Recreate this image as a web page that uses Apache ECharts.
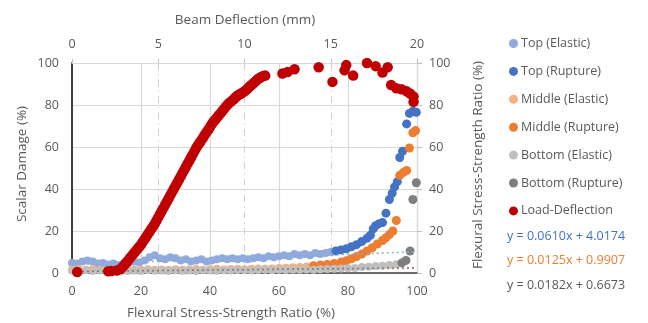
<!DOCTYPE html>
<html>
<head>
<meta charset="utf-8">
<script src="https://cdn.jsdelivr.net/npm/echarts@6/dist/echarts.min.js"></script>
<style>
  html, body { margin: 0; padding: 0; background: #fff; }
  #chart { width: 648px; height: 323px; }
</style>
</head>
<body>
<div id="chart"></div>
<script>
// 数据
const topElasticX = [0, 1.5, 3, 4.5, 6, 7.5, 9, 10.5, 12, 13.5, 15, 16.5, 18, 19.5, 21, 22.5, 24, 25.5, 27, 28.5, 30, 31.5, 33, 34.5, 36, 37.5, 39, 40.5, 42, 43.5, 45, 46.5, 48, 49.5, 51, 52.5, 54, 55.5, 57, 58.5, 60, 61.5, 63, 64.5, 66, 67.5, 69, 70.5, 72, 73.5, 75];
const topElasticY = [4.8, 4.5, 5.5, 6, 5.5, 4.5, 4.8, 4, 4.5, 3.8, 4.5, 5, 5.5, 5, 6, 7.5, 8.5, 7, 6.5, 7.5, 7, 6, 6.5, 5.5, 6, 6.5, 5.5, 6, 6.5, 7, 6.5, 7, 6.5, 7, 6.5, 7, 7.5, 7, 8, 7.5, 8, 8.5, 8, 9, 8.5, 9, 8.5, 9.5, 9, 9.5, 10];

const topRuptureX = [76.5, 78, 79.5, 81, 82.5, 84, 85.5, 86.5, 87.3, 88, 89, 90, 91, 92, 92.8, 93.5, 94.3, 95, 95.8, 97, 97.8, 98.8, 99.8];
const topRuptureY = [10.5, 11, 11.5, 12.5, 13.5, 15, 16.5, 18, 21, 22.5, 23.5, 24, 28.5, 35, 38, 41, 43.5, 55, 58, 71, 76, 77, 76.5];

const middleElasticX = [0, 2, 4, 6, 8, 10, 12, 14, 16, 18, 20, 22, 24, 26, 28, 30, 32, 34, 36, 38, 40, 42, 44, 46, 48, 50, 52, 54, 56, 58, 60, 62, 64, 66, 68, 70];
const middleElasticY = [1.6, 1.8, 1.5, 1.9, 1.6, 1.4, 1.7, 1.5, 1.8, 1.6, 1.5, 1.8, 1.6, 1.7, 1.5, 1.8, 1.6, 1.7, 1.9, 1.6, 1.8, 2.0, 1.7, 1.9, 2.0, 1.8, 2.0, 2.1, 2.0, 2.2, 2.4, 2.5, 2.7, 2.9, 3.1, 3.3];

const middleRuptureX = [70, 72, 74, 76, 78, 79.5, 81, 82.5, 84, 85.5, 87, 88.5, 90, 91, 92, 93, 94, 95, 96, 97, 97.8, 98.8, 99.6];
const middleRuptureY = [3.5, 3.8, 4.1, 4.5, 5.2, 5.8, 6.8, 7.8, 9, 10.5, 12, 13.8, 15.5, 16.8, 18.3, 20, 25, 46.5, 47.8, 48.8, 59.5, 66.8, 67.8];

const bottomElasticX = [0, 2, 4, 6, 8, 10, 12, 14, 16, 18, 20, 22, 24, 26, 28, 30, 32, 34, 36, 38, 40, 42, 44, 46, 48, 50, 52, 54, 56, 58, 60, 62, 64, 66, 68, 70, 72, 74, 76, 78, 80, 82, 84, 86, 88, 90, 92, 94];
const bottomElasticY = [1.2, 1.0, 1.3, 1.0, 1.2, 0.9, 1.1, 1.3, 1.0, 1.2, 1.0, 1.3, 1.1, 1.2, 1.0, 1.3, 1.1, 1.2, 1.0, 1.3, 1.2, 1.1, 1.3, 1.2, 1.4, 1.3, 1.2, 1.4, 1.5, 1.3, 1.5, 1.4, 1.6, 1.5, 1.7, 1.6, 1.8, 1.9, 2.0, 2.1, 2.3, 2.4, 2.8, 3.0, 3.3, 3.4, 3.8, 4.2];

const bottomRuptureX = [95.6, 96.8, 98, 98.8, 99.8];
const bottomRuptureY = [4.8, 6, 10.5, 35, 43];

// 荷载-挠度（上轴 mm，右轴 %）
const deflection = [0.3, 2.1, 2.3, 2.6, 2.8, 2.9, 3.0, 3.1, 3.2, 3.3, 3.4, 3.5, 3.6, 3.7, 3.8, 3.9, 4.0, 4.1, 4.2, 4.3, 4.4, 4.5, 4.6, 4.7, 4.8, 4.9,
  5.0, 5.1, 5.2, 5.3, 5.4, 5.5, 5.6, 5.7, 5.8, 5.9, 6.0, 6.1, 6.2, 6.3, 6.4, 6.5, 6.6, 6.7, 6.8, 6.9,
  7.0, 7.1, 7.2, 7.3, 7.4, 7.5, 7.6, 7.7, 7.8, 7.9, 8.0, 8.1, 8.2, 8.3, 8.4, 8.5, 8.6, 8.7, 8.8, 8.9,
  9.0, 9.1, 9.2, 9.3, 9.4, 9.5, 9.6, 9.7, 9.8, 9.9, 10.0, 10.1, 10.2, 10.3, 10.4, 10.5, 10.6, 10.7, 10.8, 10.9, 11.0, 11.1, 11.2,
  12.2, 12.5, 12.9, 14.3, 15.1, 15.8, 15.9, 16.3, 17.1, 17.6, 18.0, 18.3, 18.5, 18.8, 19.1, 19.4, 19.6, 19.8, 19.8];
const loadRatio = [0.5, 0.8, 1.0, 1.2, 1.8, 2.6, 3.5, 4.5, 5.5, 6.5, 7.5, 8.5, 9.5, 10.5, 11.5, 12.5, 13.5, 14.8, 16, 17.2, 18.5, 19.8, 21, 22.2, 23.5, 25,
  26.5, 28, 29.5, 31, 32.5, 34, 35.5, 37, 38.5, 40, 41.5, 43, 44.5, 46, 47.5, 49, 50.5, 52, 53.5, 55,
  56.5, 58, 59.5, 60.8, 62, 63.2, 64.5, 65.8, 67, 68.2, 69.5, 70.8, 72, 73, 74, 75, 76, 77, 78, 79,
  80, 80.8, 81.5, 82.2, 83, 83.8, 84.5, 85, 85.5, 86, 86.5, 87.2, 88, 88.8, 89.5, 90.2, 91, 91.8, 92.5, 93, 93.5, 93.8, 94,
  95, 95.7, 97, 98, 91, 96.5, 99, 94, 100, 98.5, 95.5, 98, 89.5, 88, 87.5, 86.5, 85.5, 84, 81.5];

// 趋势线方程
const trendSlope = [0.0610, 0.0125, 0.0182];
const trendIntercept = [4.0174, 0.9907, 0.6673];
const trendLabels = ['y = 0.0610x + 4.0174', 'y = 0.0125x + 0.9907', 'y = 0.0182x + 0.6673'];

const bottomTicks = [0, 20, 40, 60, 80, 100];

const colors = {
    topE: '#8FAADC', topR: '#4472C4',
    midE: '#F4B183', midR: '#ED7D31',
    botE: '#BFBFBF', botR: '#7F7F7F',
    load: '#C00000'
};
const textColor = '#595959';
const font = 'Open Sans';

function pairs(xs, ys) {
    return xs.map((x, i) => [x, ys[i]]);
}

function scatter(name, xs, ys, color, size, extra) {
    return Object.assign({
        name: name,
        type: 'scatter',
        data: pairs(xs, ys),
        symbolSize: size,
        itemStyle: { color: color, opacity: 1 },
        emphasis: { disabled: true }
    }, extra || {});
}

const chart = echarts.init(document.getElementById('chart'));

const trendColors = ['#8FAADC', '#E3A06E', '#7F7F7F'];
const trendSeries = trendSlope.map((m, i) => ({
    name: 'trend' + i,
    type: 'line',
    data: [[bottomTicks[0], trendIntercept[i]], [bottomTicks[bottomTicks.length - 1], trendIntercept[i] + m * 100]],
    symbol: 'none',
    lineStyle: { color: trendColors[i], width: 1.5, type: [2, 3] },
    silent: true,
    z: 3
}));

const option = {
    animation: false,
    grid: { left: 72, right: 231, top: 63, bottom: 50 },
    textStyle: { fontFamily: font },
    legend: {
        orient: 'vertical',
        left: 504,
        top: 32,
        itemGap: 14.9,
        itemWidth: 9,
        itemHeight: 9,
        icon: 'circle',
        textStyle: { color: textColor, fontSize: 12.5, fontFamily: font, padding: [0, 0, 0, -2] },
        data: ['Top (Elastic)', 'Top (Rupture)', 'Middle (Elastic)', 'Middle (Rupture)', 'Bottom (Elastic)', 'Bottom (Rupture)', 'Load-Deflection']
    },
    xAxis: [
        {
            type: 'value', position: 'bottom', min: 0, max: 100, interval: 20,
            axisLine: { show: true, onZero: false, lineStyle: { color: '#404040', width: 1.5 } },
            axisTick: { show: false },
            axisLabel: { color: textColor, fontSize: 12.5, margin: 12 },
            splitLine: { show: true, lineStyle: { color: '#D9D9D9', width: 1.2 } }
        },
        {
            type: 'value', position: 'top', min: 0, max: 20, interval: 5,
            axisLine: { show: true, onZero: false, lineStyle: { color: '#D9D9D9', width: 1.2 } },
            axisTick: { show: true, length: 4, lineStyle: { color: '#BFBFBF' } },
            axisLabel: { color: textColor, fontSize: 12.5, margin: 12 },
            splitLine: { show: true, lineStyle: { color: '#D0D0D0', width: 1, type: [7, 4, 1.5, 4] } }
        }
    ],
    yAxis: [
        {
            type: 'value', position: 'left', min: 0, max: 100, interval: 20,
            axisLine: { show: true, onZero: false, lineStyle: { color: '#404040', width: 2 } },
            axisTick: { show: false },
            axisLabel: { color: textColor, fontSize: 12.5, margin: 13 },
            splitLine: { show: true, lineStyle: { color: '#D9D9D9', width: 1.2 } }
        },
        {
            type: 'value', position: 'right', min: 0, max: 100, interval: 20,
            axisLine: { show: true, onZero: false, lineStyle: { color: '#D9D9D9', width: 1.2 } },
            axisTick: { show: true, length: 5, lineStyle: { color: '#BFBFBF' } },
            axisLabel: { color: textColor, fontSize: 12.5, margin: 12 },
            splitLine: { show: false }
        }
    ],
    series: [
        scatter('Top (Elastic)', topElasticX, topElasticY, colors.topE, 8),
        scatter('Top (Rupture)', topRuptureX, topRuptureY, colors.topR, 9),
        scatter('Middle (Elastic)', middleElasticX, middleElasticY, colors.midE, 8),
        scatter('Middle (Rupture)', middleRuptureX, middleRuptureY, colors.midR, 9),
        scatter('Bottom (Elastic)', bottomElasticX, bottomElasticY, colors.botE, 8),
        scatter('Bottom (Rupture)', bottomRuptureX, bottomRuptureY, colors.botR, 9)
    ].concat(trendSeries).concat([
        scatter('Load-Deflection', deflection, loadRatio, colors.load, 10.5, { xAxisIndex: 1, yAxisIndex: 1, z: 4 })
    ]),
    graphic: [
        { type: 'text', x: 245, y: 20, style: { text: 'Beam Deflection (mm)', fill: textColor, font: '13.5px "Open Sans"', textAlign: 'center', textVerticalAlign: 'middle' } },
        { type: 'text', x: 231, y: 313, style: { text: 'Flexural Stress-Strength Ratio (%)', fill: textColor, font: '13.5px "Open Sans"', textAlign: 'center', textVerticalAlign: 'middle' } },
        { type: 'text', x: 22, y: 164, rotation: Math.PI / 2, style: { text: 'Scalar Damage (%)', fill: textColor, font: '13.5px "Open Sans"', textAlign: 'center', textVerticalAlign: 'middle' } },
        { type: 'text', x: 478, y: 165, rotation: Math.PI / 2, style: { text: 'Flexural Stress-Strength Ratio (%)', fill: textColor, font: '13.5px "Open Sans"', textAlign: 'center', textVerticalAlign: 'middle' } }
    ].concat(trendLabels.map((t, i) => ({
        type: 'text', x: 507, y: 236 + i * 24.5,
        style: { text: t, fill: [colors.topR, colors.midR, textColor][i], font: '12.5px "Open Sans"', textAlign: 'left', textVerticalAlign: 'middle' }
    })))
};

chart.setOption(option);
</script>
</body>
</html>
